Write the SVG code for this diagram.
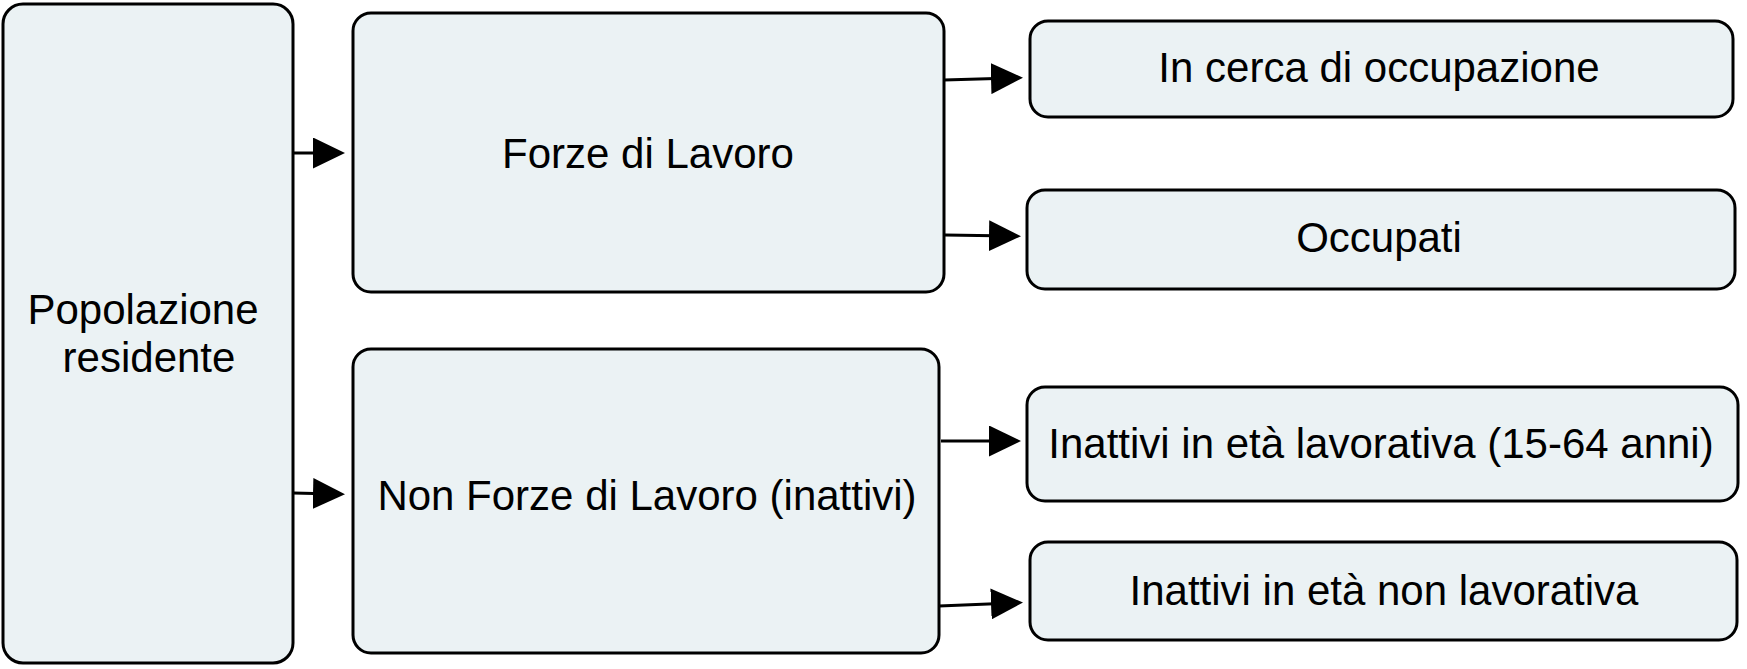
<svg xmlns="http://www.w3.org/2000/svg" width="1747" height="669" viewBox="0 0 1747 669">
  <style>
    .box { fill: #EBF2F4; stroke: #000; stroke-width: 3; }
    .lbl { font-family: "Liberation Sans", Arial, sans-serif; font-size: 42px; fill: #000; text-anchor: middle; }
    .conn { stroke: #000; stroke-width: 3; fill: none; marker-end: url(#arr); }
  </style>
  <defs>
    <marker id="arr" markerUnits="userSpaceOnUse" markerWidth="32" markerHeight="31" refX="22" refY="15.5" orient="auto">
      <path d="M0,0 L32,15.5 L0,31 z" fill="#000"/>
    </marker>
  </defs>
  <rect width="1747" height="669" fill="#fff"/>
  <g id="node-popolazione">
    <rect class="box" x="3" y="4" width="290" height="659" rx="20" ry="20"/>
    <text class="lbl" x="143" y="324">Popolazione</text>
    <text class="lbl" x="149" y="372">residente</text>
  </g>
  <g id="node-forze">
    <rect class="box" x="353" y="13" width="591" height="279" rx="18" ry="18"/>
    <text class="lbl" x="648" y="168">Forze di Lavoro</text>
  </g>
  <g id="node-nonforze">
    <rect class="box" x="353" y="349" width="586" height="304" rx="18" ry="18"/>
    <text class="lbl" x="647" y="510">Non Forze di Lavoro (inattivi)</text>
  </g>
  <g id="node-incerca">
    <rect class="box" x="1030" y="21" width="703" height="96" rx="18" ry="18"/>
    <text class="lbl" x="1379" y="82">In cerca di occupazione</text>
  </g>
  <g id="node-occupati">
    <rect class="box" x="1027" y="190" width="708" height="99" rx="18" ry="18"/>
    <text class="lbl" x="1379" y="252">Occupati</text>
  </g>
  <g id="node-inattivi-lav">
    <rect class="box" x="1027" y="387" width="711" height="114" rx="18" ry="18"/>
    <text class="lbl" x="1381" y="458">Inattivi in età lavorativa (15-64 anni)</text>
  </g>
  <g id="node-inattivi-nonlav">
    <rect class="box" x="1030" y="542" width="707" height="98" rx="18" ry="18"/>
    <text class="lbl" x="1384" y="605">Inattivi in età non lavorativa</text>
  </g>
  <g id="connectors">
    <line class="conn" x1="293" y1="153" x2="335" y2="153"/>
    <line class="conn" x1="293" y1="493" x2="335" y2="494"/>
    <line class="conn" x1="944" y1="80" x2="1013" y2="78"/>
    <line class="conn" x1="945" y1="235" x2="1011" y2="236"/>
    <line class="conn" x1="941" y1="441" x2="1011" y2="441"/>
    <line class="conn" x1="939" y1="606" x2="1013" y2="603"/>
  </g>
</svg>
